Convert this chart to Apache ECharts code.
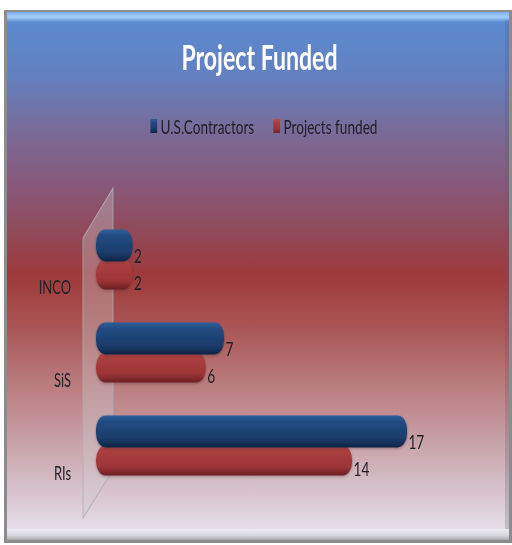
<!DOCTYPE html>
<html>
<head>
<meta charset="utf-8">
<style>
  html, body { margin: 0; padding: 0; background: #ffffff; overflow: hidden; }
  #wrap { width: 512px; height: 545px; overflow: hidden; }
  /* the chart is laid out wide and condensed horizontally, giving narrow lettering */
  #chart { height: 545px; transform-origin: 0 0; }
</style>
<script src="https://cdn.jsdelivr.net/npm/echarts@6/dist/echarts.min.js"></script>
</head>
<body>
<div id="wrap"><div id="chart"></div></div>
<script>
// Funding data per programme
const categories = ['INCO', 'SiS', 'RIs'];
const contractors = [2, 7, 17];
const projectsFunded = [2, 6, 14];
const seriesNames = ['U.S.Contractors', 'Projects funded'];

const FONT = 'Lato, "Open Sans", sans-serif';

// horizontal condensing factor
const S = 0.68;
const W = 512 / S;
const px = x => x / S;

const el = document.getElementById('chart');
el.style.width = W + 'px';
el.style.transform = 'scaleX(' + S + ')';

const chart = echarts.init(el, null, { renderer: 'svg', width: W, height: 545 });

function barFill(stops) {
  return new echarts.graphic.LinearGradient(0, 0, 0, 1,
    stops.map(s => ({ offset: s[0], color: s[1] })));
}

const option = {
  animation: false,
  graphic: [
    // framed panel with vertical blue-red-white wash
    {
      type: 'rect', z: -20,
      shape: { x: px(4), y: 10, width: W - px(4), height: 533 },
      style: { fill: '#8c8c8c' }
    },
    {
      type: 'rect', z: -19,
      shape: { x: px(7), y: 12, width: W - px(10), height: 528 },
      style: {
        fill: new echarts.graphic.LinearGradient(0, 0, 0, 1, [
          { offset: 0.00, color: '#5a8bd2' },
          { offset: 0.12, color: '#6380c0' },
          { offset: 0.22, color: '#786c9a' },
          { offset: 0.32, color: '#875a7c' },
          { offset: 0.41, color: '#904a5c' },
          { offset: 0.50, color: '#9e3a3a' },
          { offset: 0.60, color: '#aa5656' },
          { offset: 0.70, color: '#b97a7c' },
          { offset: 0.80, color: '#c69ca2' },
          { offset: 0.90, color: '#d6c0ca' },
          { offset: 1.00, color: '#e8e6f0' }
        ])
      }
    },
    {
      type: 'rect', z: -18,
      shape: { x: px(7), y: 12, width: W - px(10), height: 10 },
      style: {
        fill: new echarts.graphic.LinearGradient(0, 0, 0, 1, [
          { offset: 0, color: '#7fb0ee' },
          { offset: 0.5, color: '#a4cdf6' },
          { offset: 1, color: '#5f8fd4' }
        ])
      }
    },
    {
      type: 'rect', z: -18,
      shape: { x: px(505), y: 20, width: px(4), height: 510 },
      style: { fill: 'rgba(90,90,110,0.25)' }
    },
    {
      type: 'rect', z: -18,
      shape: { x: px(7), y: 529, width: W - px(10), height: 11 },
      style: {
        fill: new echarts.graphic.LinearGradient(0, 0, 0, 1, [
          { offset: 0, color: '#eceaf2' },
          { offset: 0.6, color: '#d8d6de' },
          { offset: 1, color: '#a6a6aa' }
        ])
      }
    },
    // translucent back wall behind the bars
    {
      type: 'polygon', z: -10,
      shape: { points: [[px(83), 238], [px(113), 188], [px(113), 470], [px(83), 518]] },
      style: { fill: 'rgba(205,205,210,0.35)', stroke: 'rgba(175,175,180,0.8)', lineWidth: 1.4 }
    }
  ],
  title: {
    text: 'Project Funded',
    left: px(178),
    top: 35,
    textStyle: { color: '#ffffff', fontSize: 34, fontWeight: 'bold', fontFamily: FONT }
  },
  legend: {
    top: 111,
    left: px(147),
    itemWidth: 10,
    itemHeight: 14,
    itemGap: 28,
    icon: 'rect',
    textStyle: { color: '#1e1e28', fontSize: 20, fontFamily: FONT },
    data: seriesNames
  },
  grid: { left: px(96), right: W - px(462), top: 213, height: 279, containLabel: false },
  xAxis: {
    type: 'value',
    min: 0,
    max: 20,
    show: false
  },
  yAxis: {
    type: 'category',
    inverse: true,
    data: categories,
    axisLine: { show: false },
    axisTick: { show: false },
    splitLine: { show: false },
    axisLabel: {
      color: '#222228',
      fontSize: 19,
      fontFamily: FONT,
      margin: px(25),
      verticalAlign: 'top',
      lineHeight: 54
    }
  },
  series: [
    {
      name: seriesNames[0],
      type: 'bar',
      data: contractors,
      barWidth: 32,
      barGap: '-6%',
      z: 4,
      itemStyle: {
        color: barFill([[0, '#2f5e9a'], [0.2, '#224b82'], [0.7, '#1b3d6c'], [1, '#0e2545']]),
        borderRadius: 14,
        shadowColor: 'rgba(20,20,40,0.35)',
        shadowBlur: 3,
        shadowOffsetY: 1
      },
      label: {
        show: true,
        position: 'right',
        distance: 2,
        offset: [0, 10],
        color: '#1e1e24',
        fontSize: 20,
        fontFamily: FONT
      }
    },
    {
      name: seriesNames[1],
      type: 'bar',
      data: projectsFunded,
      barWidth: 30,
      z: 3,
      itemStyle: {
        color: barFill([[0, '#bb4c4a'], [0.2, '#aa3e3e'], [0.7, '#9e3536'], [1, '#6c2024']]),
        borderRadius: 14,
        shadowColor: 'rgba(60,20,20,0.35)',
        shadowBlur: 3,
        shadowOffsetY: 1
      },
      label: {
        show: true,
        position: 'right',
        distance: 2,
        offset: [0, 8],
        color: '#1e1e24',
        fontSize: 20,
        fontFamily: FONT
      }
    }
  ]
};

chart.setOption(option);
</script>
</body>
</html>
